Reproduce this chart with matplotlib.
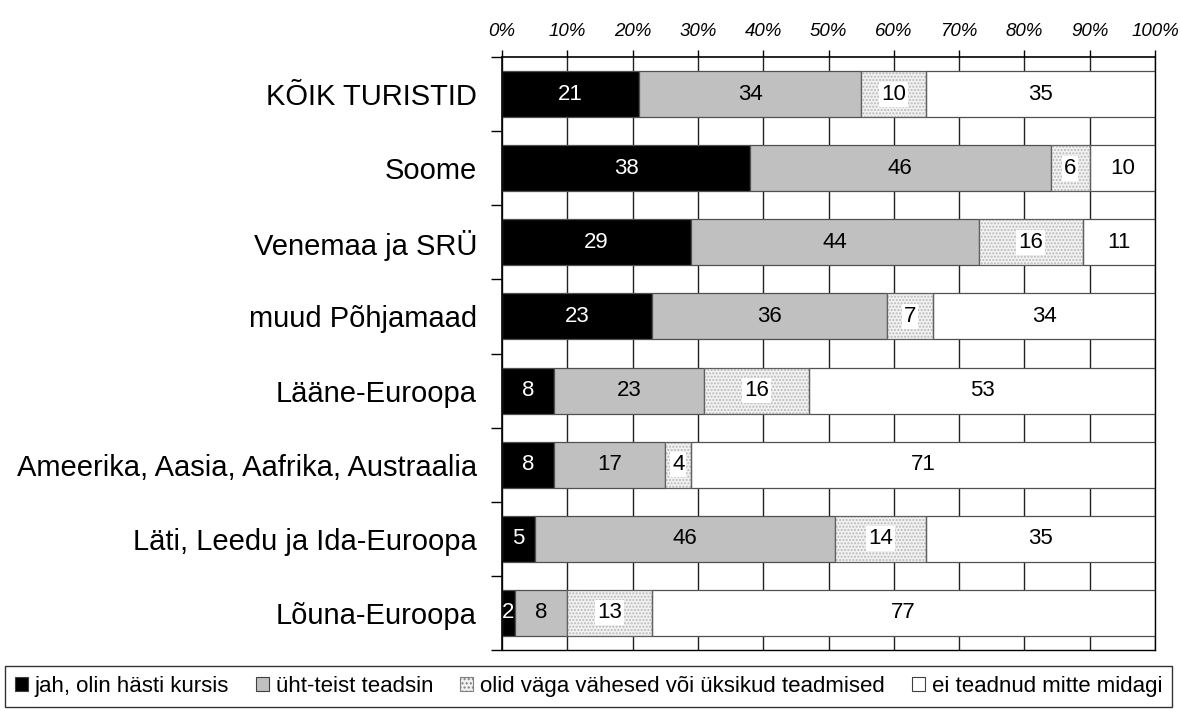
import matplotlib.pyplot as plt
import matplotlib.patches as mpatches
import numpy as np

# andmed
categories = ["KÕIK TURISTID", "Soome", "Venemaa ja SRÜ", "muud Põhjamaad",
              "Lääne-Euroopa", "Ameerika, Aasia, Aafrika, Austraalia",
              "Läti, Leedu ja Ida-Euroopa", "Lõuna-Euroopa"]
jah = [21, 38, 29, 23, 8, 8, 5, 2]
yht_teist = [34, 46, 44, 36, 23, 17, 46, 8]
vahesed = [10, 6, 16, 7, 16, 4, 14, 13]
ei_midagi = [35, 10, 11, 34, 53, 71, 35, 77]
series_names = ["jah, olin hästi kursis", "üht-teist teadsin",
                "olid väga vähesed või üksikud teadmised", "ei teadnud mitte midagi"]
xticks = [0, 10, 20, 30, 40, 50, 60, 70, 80, 90, 100]

plt.rcParams['font.family'] = ['Liberation Sans', 'DejaVu Sans']

fig = plt.figure(figsize=(11.8, 7.11), dpi=100)
ax = fig.add_axes([502/1180, 1-650/711, 653/1180, 593/711])

y = np.arange(len(categories))
h = 0.62
series = [jah, yht_teist, vahesed, ei_midagi]
faces = ['black', '#c0c0c0', '#f2f2f2', 'white']
txtcol = ['white', 'black', 'black', 'black']

ax.set_axisbelow(True)
ax.grid(axis='x', color='#202020', lw=1)

left = np.zeros(len(categories))
for i, vals in enumerate(series):
    vals = np.array(vals, dtype=float)
    if i == 2:
        # täpiline muster
        ax.barh(y, vals, h, left=left, color=faces[i], hatch='.....',
                edgecolor='#b8b8b8', lw=0, zorder=2)
        ax.barh(y, vals, h, left=left, fill=False, edgecolor='#606060', lw=0.9, zorder=3)
    else:
        ax.barh(y, vals, h, left=left, color=faces[i], edgecolor='#505050', lw=0.9, zorder=2)
    for yy, l, v in zip(y, left, vals):
        bb = dict(facecolor='white', edgecolor='none', pad=1.5) if i == 2 else None
        ax.text(l + v/2, yy, f"{int(v)}", ha='center', va='center', fontsize=16,
                color=txtcol[i], bbox=bb, zorder=4)
    left += vals

ax.set_xlim(0, 100)
ax.set_ylim(len(categories) - 0.5, -0.5)
ax.xaxis.tick_top()
ax.set_xticks(xticks)
ax.set_xticklabels([f"{t}%" for t in xticks], fontsize=13.5, style='italic')
ax.tick_params(axis='x', direction='out', length=5, pad=7, width=1)
ax.set_yticks(y)
ax.set_yticklabels(categories, fontsize=21)
ax.set_yticks(np.arange(len(categories) + 1) - 0.5, minor=True)
ax.tick_params(axis='y', which='major', length=0, pad=18)
ax.tick_params(axis='y', which='minor', length=8, width=1)
for s in ['left', 'top']:
    ax.spines[s].set_linewidth(1.2)
ax.spines['right'].set_linewidth(1)
ax.spines['bottom'].set_linewidth(1)

handles = []
for i in range(4):
    if i == 2:
        handles.append(mpatches.Patch(facecolor=faces[i], hatch='....', edgecolor='#808080', lw=0.8))
    else:
        handles.append(mpatches.Patch(facecolor=faces[i], edgecolor='#404040', lw=0.8))
leg = fig.legend(handles, series_names, loc='center', ncol=4, fontsize=16,
                 bbox_to_anchor=(5/1180, 3/711, 1167/1180, 43/711), mode='expand',
                 handlelength=0.6, handleheight=0.6, handletextpad=0.3,
                 columnspacing=0.5, fancybox=False, borderpad=0.45, borderaxespad=0)
leg.get_frame().set_edgecolor('black')
leg.get_frame().set_linewidth(1)

fig.savefig('out.png', dpi=100)
